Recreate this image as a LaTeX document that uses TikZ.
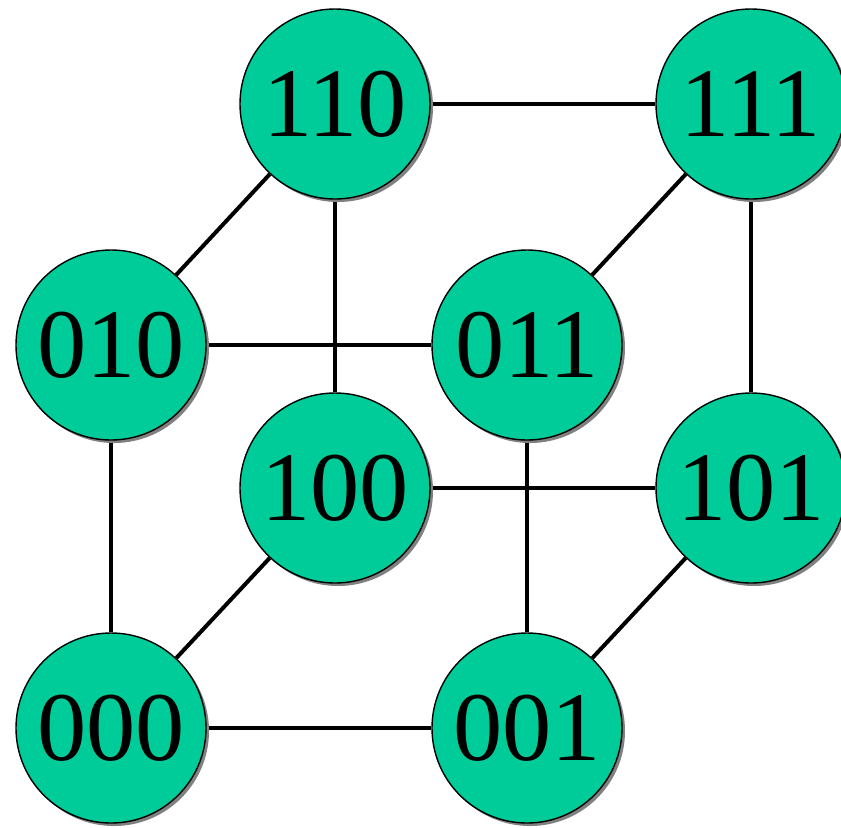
\documentclass[tikz,border=0pt]{standalone}
\usepackage{fontspec}
\setmainfont{Liberation Serif}
\usetikzlibrary{shadows,backgrounds}
\definecolor{cubegreen}{RGB}{0,204,153}
\tikzset{
    vertex/.style = {circle, draw = black, line width = 1.2pt, fill = cubegreen,
        minimum size = 5.7cm, inner sep = 0pt,
        font = \fontsize{84}{96}\selectfont,
        drop shadow = {shadow xshift = 0.09cm, shadow yshift = -0.09cm, fill = gray, opacity = 1}},
    edge/.style = {line width = 3.4pt}
}
\begin{document}
\begin{tikzpicture}[x = 0.03cm, y = -0.03cm]
        \useasboundingbox (0, 0) rectangle (841, 827);
        \node[vertex] (n110) at (335, 104) {110};
        \node[vertex] (n111) at (751, 104) {111};
        \node[vertex] (n010) at (111, 345) {010};
        \node[vertex] (n011) at (527, 345) {011};
        \node[vertex] (n100) at (335, 488) {100};
        \node[vertex] (n101) at (751, 488) {101};
        \node[vertex] (n000) at (111, 728) {000};
        \node[vertex] (n001) at (527, 728) {001};
        \begin{scope}[on background layer]
            \draw[edge] (n000) -- (n001);
            \draw[edge] (n000) -- (n010);
            \draw[edge] (n000) -- (n100);
            \draw[edge] (n001) -- (n011);
            \draw[edge] (n001) -- (n101);
            \draw[edge] (n010) -- (n011);
            \draw[edge] (n010) -- (n110);
            \draw[edge] (n011) -- (n111);
            \draw[edge] (n100) -- (n101);
            \draw[edge] (n100) -- (n110);
            \draw[edge] (n101) -- (n111);
            \draw[edge] (n110) -- (n111);
        \end{scope}
    \end{tikzpicture}
\end{document}
